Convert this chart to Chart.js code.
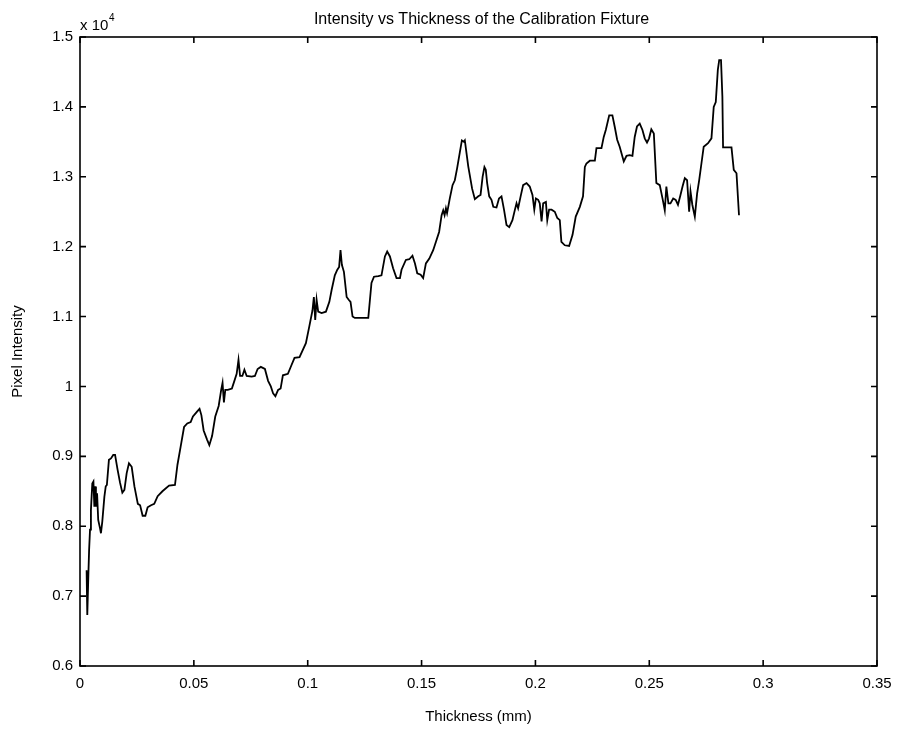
<!DOCTYPE html>
<html>
<head>
<meta charset="utf-8">
<script src="https://cdn.jsdelivr.net/npm/chart.js@4/dist/chart.umd.min.js"></script>
<style>
  html, body { margin: 0; padding: 0; background: #fff; }
  #wrap { width: 909px; height: 733px; }
</style>
</head>
<body>
<div id="wrap"><canvas id="myChart" width="909" height="733"></canvas></div>
<script>
// thickness in mm
var thickness = [
  0.0029, 0.0032, 0.0037, 0.0040, 0.0044, 0.0048, 0.0054, 0.0059, 0.0063, 0.0066,
  0.0070, 0.0075, 0.0080, 0.0088, 0.0092, 0.0098, 0.0107, 0.0113, 0.0118, 0.0127,
  0.0136, 0.0146, 0.0154, 0.0165, 0.0176, 0.0186, 0.0195, 0.0205, 0.0215, 0.0227,
  0.0239, 0.0254, 0.0264, 0.0275, 0.0287, 0.0297, 0.0312, 0.0326, 0.0341, 0.0362,
  0.0391, 0.0417, 0.0428, 0.0442, 0.0457, 0.0471, 0.0486, 0.0496, 0.0514, 0.0525,
  0.0533, 0.0543, 0.0558, 0.0568, 0.0580, 0.0594, 0.0609, 0.0620, 0.0626, 0.0632,
  0.0638, 0.0649, 0.0667, 0.0678, 0.0688, 0.0696, 0.0703, 0.0713, 0.0722, 0.0732,
  0.0754, 0.0768, 0.0780, 0.0794, 0.0812, 0.0826, 0.0838, 0.0848, 0.0858, 0.0870,
  0.0881, 0.0891, 0.0913, 0.0928, 0.0942, 0.0964, 0.0992, 0.1007, 0.1021, 0.1027,
  0.1033, 0.1039, 0.1046, 0.1061, 0.1080, 0.1095, 0.1105, 0.1119, 0.1130, 0.1138,
  0.1144, 0.1150, 0.1159, 0.1171, 0.1180, 0.1188, 0.1197, 0.1207, 0.1237, 0.1266,
  0.1280, 0.1291, 0.1310, 0.1324, 0.1339, 0.1349, 0.1361, 0.1375, 0.1390, 0.1405,
  0.1412, 0.1431, 0.1446, 0.1460, 0.1471, 0.1481, 0.1496, 0.1507, 0.1519, 0.1534,
  0.1551, 0.1566, 0.1577, 0.1588, 0.1595, 0.1601, 0.1607, 0.1612, 0.1624, 0.1636,
  0.1646, 0.1656, 0.1668, 0.1677, 0.1686, 0.1690, 0.1705, 0.1722, 0.1734, 0.1749,
  0.1759, 0.1768, 0.1776, 0.1782, 0.1788, 0.1797, 0.1807, 0.1815, 0.1829, 0.1840,
  0.1851, 0.1862, 0.1873, 0.1885, 0.1899, 0.1910, 0.1917, 0.1924, 0.1935, 0.1946,
  0.1961, 0.1975, 0.1987, 0.1995, 0.2002, 0.2012, 0.2019, 0.2027, 0.2034, 0.2046,
  0.2052, 0.2060, 0.2071, 0.2085, 0.2096, 0.2107, 0.2114, 0.2129, 0.2148, 0.2163,
  0.2177, 0.2195, 0.2209, 0.2217, 0.2224, 0.2239, 0.2261, 0.2268, 0.2290, 0.2300,
  0.2309, 0.2324, 0.2338, 0.2348, 0.2359, 0.2370, 0.2388, 0.2400, 0.2414, 0.2426,
  0.2436, 0.2446, 0.2458, 0.2470, 0.2480, 0.2490, 0.2499, 0.2509, 0.2520, 0.2531,
  0.2546, 0.2558, 0.2568, 0.2575, 0.2584, 0.2593, 0.2605, 0.2616, 0.2626, 0.2637,
  0.2646, 0.2656, 0.2666, 0.2675, 0.2681, 0.2689, 0.2700, 0.2710, 0.2719, 0.2729,
  0.2739, 0.2758, 0.2773, 0.2783, 0.2792, 0.2801, 0.2807, 0.2815, 0.2821, 0.2824,
  0.2838, 0.2861, 0.2871, 0.2883, 0.2894
];

// mean pixel intensity at each thickness
var intensity = [
  7370, 6730, 7330, 7660, 7950, 8230, 8610, 8640, 8280, 8570,
  8280, 8470, 8090, 7970, 7900, 8070, 8420, 8570, 8590, 8950,
  8970, 9020, 9020, 8810, 8620, 8480, 8520, 8760, 8900, 8850,
  8570, 8320, 8300, 8150, 8150, 8270, 8300, 8320, 8430, 8500,
  8580, 8590, 8880, 9140, 9420, 9470, 9490, 9570, 9640, 9680,
  9590, 9370, 9240, 9160, 9290, 9570, 9720, 9950, 10050, 9770,
  9950, 9950, 9970, 10080, 10180, 10380, 10150, 10150, 10240, 10150,
  10140, 10150, 10250, 10280, 10250, 10080, 10000, 9900, 9860, 9950,
  9970, 10160, 10180, 10300, 10410, 10420, 10620, 10860, 11090, 11280,
  10950, 11240, 11070, 11050, 11070, 11210, 11380, 11590, 11670, 11710,
  11950, 11740, 11640, 11280, 11240, 11210, 11000, 10980, 10980, 10980,
  11480, 11570, 11580, 11590, 11860, 11930, 11860, 11690, 11550, 11550,
  11670, 11810, 11820, 11870, 11760, 11620, 11600, 11550, 11760, 11830,
  11950, 12100, 12210, 12450, 12520, 12450, 12550, 12480, 12690, 12880,
  12950, 13120, 13350, 13520, 13500, 13520, 13150, 12830, 12680, 12720,
  12740, 13000, 13140, 13100, 12910, 12720, 12670, 12570, 12560, 12690,
  12720, 12530, 12310, 12280, 12380, 12530, 12620, 12550, 12720, 12880,
  12910, 12860, 12740, 12530, 12690, 12670, 12620, 12360, 12620, 12640,
  12380, 12530, 12530, 12500, 12410, 12380, 12070, 12020, 12010, 12170,
  12430, 12570, 12720, 13140, 13190, 13230, 13230, 13410, 13410, 13570,
  13670, 13880, 13880, 13720, 13530, 13430, 13220, 13300, 13310, 13300,
  13570, 13720, 13760, 13670, 13550, 13490, 13550, 13680, 13620, 12910,
  12880, 12690, 12520, 12860, 12620, 12620, 12690, 12670, 12600, 12740,
  12860, 12980, 12950, 12500, 12790, 12600, 12430, 12760, 12950, 13190,
  13430, 13480, 13550, 14000, 14070, 14530, 14670, 14670, 14150, 13420,
  13420, 13420, 13100, 13050, 12450
];

var xTicks = [0, 0.05, 0.1, 0.15, 0.2, 0.25, 0.3, 0.35];
var yTicks = [6000, 7000, 8000, 9000, 10000, 11000, 12000, 13000, 14000, 15000];

var points = thickness.map(function (t, i) { return { x: t, y: intensity[i] }; });

var FONT = 'Liberation Sans, Arial, Helvetica, sans-serif';

// box round the axes, inward ticks on all four sides, title and the exponent note
var matlabAxes = {
  id: 'matlabAxes',
  afterDraw: function (chart) {
    var c = chart.ctx, a = chart.chartArea;
    var xs = chart.scales.x, ys = chart.scales.y;
    var len = 6;
    c.save();
    c.strokeStyle = '#000';
    c.lineWidth = 1.6;
    c.strokeRect(a.left, a.top, a.right - a.left, a.bottom - a.top);
    c.beginPath();
    xTicks.forEach(function (v) {
      var px = xs.getPixelForValue(v);
      c.moveTo(px, a.bottom); c.lineTo(px, a.bottom - len);
      c.moveTo(px, a.top); c.lineTo(px, a.top + len);
    });
    yTicks.forEach(function (v) {
      var py = ys.getPixelForValue(v);
      c.moveTo(a.left, py); c.lineTo(a.left + len, py);
      c.moveTo(a.right, py); c.lineTo(a.right - len, py);
    });
    c.stroke();

    c.fillStyle = '#000';
    c.textBaseline = 'alphabetic';
    c.textAlign = 'center';
    c.font = '16px ' + FONT;
    c.fillText('Intensity vs Thickness of the Calibration Fixture', (a.left + a.right) / 2 + 3, 24);

    c.textAlign = 'left';
    c.font = '15px ' + FONT;
    c.fillText('x 10', a.left, 30);
    c.font = '10px ' + FONT;
    c.fillText('4', a.left + 29, 21);
    c.restore();
  }
};

var ctx = document.getElementById('myChart');
var myChart = new Chart(ctx, {
  type: 'line',
  data: {
    datasets: [{
      label: 'Intensity',
      data: points,
      borderColor: '#000',
      backgroundColor: '#000',
      borderWidth: 1.8,
      pointRadius: 0,
      tension: 0,
      fill: false
    }]
  },
  options: {
    responsive: false,
    animation: false,
    layout: { padding: { top: 37, right: 32, left: 0, bottom: 0 } },
    plugins: {
      legend: { display: false },
      title: { display: false },
      tooltip: { enabled: false }
    },
    scales: {
      x: {
        type: 'linear',
        min: 0,
        max: 0.35,
        afterBuildTicks: function (s) { s.ticks = xTicks.map(function (v) { return { value: v }; }); },
        afterFit: function (s) { s.height = 67; },
        grid: { display: false, drawTicks: false },
        border: { display: false },
        ticks: {
          color: '#000',
          padding: 9,
          maxRotation: 0,
          font: { family: FONT, size: 15 },
          callback: function (v) { return String(+v.toFixed(2)); }
        },
        title: {
          display: true,
          text: 'Thickness (mm)',
          color: '#000',
          font: { family: FONT, size: 15 },
          padding: { top: 0, bottom: 7 }
        }
      },
      y: {
        min: 6000,
        max: 15000,
        afterBuildTicks: function (s) { s.ticks = yTicks.map(function (v) { return { value: v }; }); },
        afterFit: function (s) { s.width = 80; },
        grid: { display: false, drawTicks: false },
        border: { display: false },
        ticks: {
          color: '#000',
          padding: 7,
          font: { family: FONT, size: 15 },
          callback: function (v) { return String(+(v / 10000).toFixed(1)); }
        },
        title: {
          display: true,
          text: 'Pixel Intensity',
          color: '#000',
          font: { family: FONT, size: 15 },
          padding: { top: 9, bottom: 0 }
        }
      }
    }
  },
  plugins: [matlabAxes]
});
</script>
</body>
</html>
